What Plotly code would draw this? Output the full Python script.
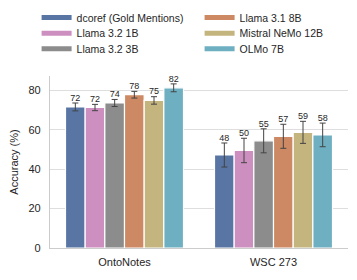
import plotly.graph_objects as go

# data
datasets = ['OntoNotes', 'WSC 273']
models = ['dcoref (Gold Mentions)', 'Llama 3.2 1B', 'Llama 3.2 3B',
          'Llama 3.1 8B', 'Mistral NeMo 12B', 'OLMo 7B']
colors = ['#5875a4', '#cc8fbf', '#8c8c8c', '#cc8963', '#c4b47e', '#6eafc2']

accuracy = {
    'dcoref (Gold Mentions)': [71.6, 47.2],
    'Llama 3.2 1B': [71.3, 49.5],
    'Llama 3.2 3B': [73.6, 54.4],
    'Llama 3.1 8B': [77.8, 56.7],
    'Mistral NeMo 12B': [74.9, 58.7],
    'OLMo 7B': [81.3, 57.4],
}
errors = {
    'dcoref (Gold Mentions)': [2.0, 6.1],
    'Llama 3.2 1B': [1.6, 6.2],
    'Llama 3.2 3B': [1.8, 6.1],
    'Llama 3.1 8B': [1.7, 6.1],
    'Mistral NeMo 12B': [1.9, 5.6],
    'OLMo 7B': [2.0, 6.0],
}
labels = {
    'dcoref (Gold Mentions)': ['72', '48'],
    'Llama 3.2 1B': ['72', '50'],
    'Llama 3.2 3B': ['74', '55'],
    'Llama 3.1 8B': ['78', '57'],
    'Mistral NeMo 12B': ['75', '59'],
    'OLMo 7B': ['82', '58'],
}

FONT = 'Liberation Sans, Arial, sans-serif'
bar_w = 0.132
n = len(models)

# legend laid out in two columns of three, one small legend per entry
legend_cols = [-0.045, 0.502]
legend_rows = [1.424, 1.333, 1.243]

fig = go.Figure()
legends = {}
for i, m in enumerate(models):
    xs = [g + (i - (n - 1) / 2) * bar_w for g in range(len(datasets))]
    fig.add_trace(go.Bar(
        x=xs, y=accuracy[m], width=bar_w,
        marker=dict(color=colors[i], line=dict(color='white', width=1.2)),
        error_y=dict(type='data', array=errors[m], color='#444444',
                     thickness=1, width=3),
        showlegend=False, hoverinfo='skip'
    ))
    tops = [v + e for v, e in zip(accuracy[m], errors[m])]
    fig.add_trace(go.Scatter(
        x=xs, y=tops, mode='text', text=labels[m],
        textposition='top center', cliponaxis=False,
        textfont=dict(size=9, color='#262626', family=FONT),
        showlegend=False, hoverinfo='skip'
    ))
    lname = 'legend' if i == 0 else f'legend{i + 1}'
    fig.add_trace(go.Scatter(
        x=[None], y=[None], mode='lines', name=m,
        line=dict(color=colors[i], width=5), legend=lname
    ))
    legends[lname] = dict(
        x=legend_cols[i // 3], y=legend_rows[i % 3],
        xref='paper', yref='paper', xanchor='left', yanchor='top',
        font=dict(size=10.5), itemwidth=30, bgcolor='rgba(0,0,0,0)'
    )

# page body has an 8px margin, so the figure is drawn 8px smaller
fig.update_layout(
    width=349, height=272,
    margin=dict(l=42, r=9, t=68, b=32, autoexpand=False),
    paper_bgcolor='white', plot_bgcolor='white',
    font=dict(family=FONT, size=10, color='#262626'),
    showlegend=True,
    xaxis=dict(
        range=[-0.5, 1.5], tickvals=list(range(len(datasets))),
        ticktext=datasets, showgrid=False, zeroline=False,
        showline=True, linecolor='#cccccc', linewidth=1.2,
        ticks='', tickfont=dict(size=11), ticklabelstandoff=4
    ),
    yaxis=dict(
        title=dict(text='Accuracy (%)', font=dict(size=11), standoff=14),
        range=[0, 87.3], tickvals=[0, 20, 40, 60, 80],
        showgrid=True, gridcolor='#dedede', gridwidth=1,
        zeroline=False, showline=True, linecolor='#cccccc', linewidth=1.2,
        ticks='', tickfont=dict(size=11), ticklabelstandoff=6
    ),
    **legends
)

fig.write_html('out.html')
